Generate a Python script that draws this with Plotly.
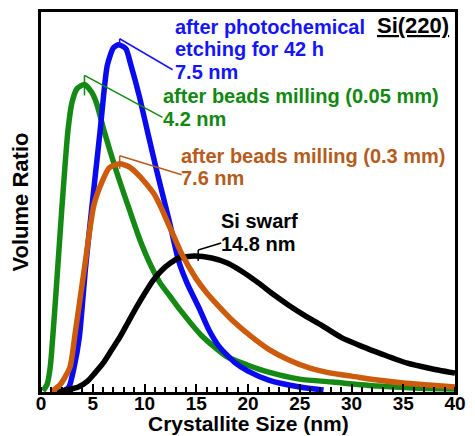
import plotly.graph_objects as go

# ---- data (x in nm, volume ratio in arbitrary units) ----
green_x = [0.2, 0.6, 0.9, 1.4, 2.0, 2.6, 3.0, 3.5, 4.2, 4.9, 5.4, 6.1, 7.3, 8.5, 9.5, 10.5, 11.5, 12.5,
           13.5, 15.5, 17.9, 20.0, 22.0, 25.0, 28.2, 32.5, 36.0, 40.0]
green_y = [1, 8, 26, 93, 183, 263, 292, 306, 310, 302, 290, 263, 222, 185, 155, 130, 110, 96,
           82, 57, 36, 27, 20, 13, 10, 6, 4, 3]

blue_x = [2.2, 2.7, 3.2, 3.7, 4.3, 4.9, 5.7, 6.4, 7.0, 7.5, 8.2, 8.7, 9.5, 10.3, 11.2, 12.4, 13.3,
          14.1, 15.3, 16.2, 17.2, 18.8, 20.0, 22.0, 25.0, 27.3]
blue_y = [1, 5, 25, 55, 125, 185, 262, 329, 347, 350, 346, 329, 298, 262, 222, 172, 132,
          110, 84, 63, 46, 29, 21, 12, 5, 2]

orange_x = [1.0, 1.9, 2.8, 3.3, 4.2, 5.1, 5.9, 6.6, 7.6, 8.5, 9.2, 10.0, 10.9, 11.6, 12.4, 13.0,
            13.6, 15.0, 16.0, 17.2, 18.5, 20.3, 22.0, 24.0, 26.0, 28.0, 30.0, 32.5, 35.0, 37.5, 40.0]
orange_y = [0, 8, 25, 59, 125, 188, 212, 226, 230, 227, 221, 212, 200, 186, 167, 153,
            139, 114, 100, 86, 72, 56, 43, 32, 24, 19, 16, 12, 9, 7, 5]

black_x = [1.5, 2.5, 3.6, 4.5, 5.2, 6.0, 6.8, 7.6, 8.4, 9.2, 10.0, 10.8, 11.6, 12.5, 13.3, 14.8,
           16.5, 18.0, 19.5, 21.0, 22.5, 24.0, 25.5, 27.0, 29.0, 31.0, 33.0, 35.4, 37.5, 40.0]
black_y = [0, 2, 5, 11, 19, 29, 42, 55, 70, 85, 99, 112, 122, 130, 135, 137,
           135, 130, 121, 110, 98, 87, 77, 68, 55, 46, 38, 29, 24, 19]

x_ticks = [0, 5, 10, 15, 20, 25, 30, 35, 40]

series = [
    dict(name="Si swarf", x=black_x, y=black_y, color="#000000", text="#000000",
         peak=14.8, lines=["Si swarf", "14.8 nm"], xaxis="x2"),
    dict(name="after beads milling (0.3 mm)", x=orange_x, y=orange_y, color="#cc5c0c", text="#b55c1c",
         peak=7.6, lines=["after beads milling (0.3 mm)", "7.6 nm"], xaxis="x3"),
    dict(name="after beads milling (0.05 mm)", x=green_x, y=green_y, color="#148a14", text="#118811",
         peak=4.2, lines=["after beads milling (0.05 mm)", "4.2 nm"], xaxis="x"),
    dict(name="after photochemical etching for 42 h", x=blue_x, y=blue_y, color="#0a0aee", text="#1414ff",
         peak=7.5, lines=["after photochemical", "etching for 42 h", "7.5 nm"], xaxis="x"),
]

# layout geometry (pixels)
W, H = 475, 436
L, R, T, B = 41, 16, 9, 44
PW, PH = W - L - R, H - T - B

def px(xp):
    return (xp - L) / PW

def py(yp):
    return (H - B - yp) / PH

# text placement: left pixel, first baseline pixel, line step; leader-line pixel offsets
label_pos = {
    "Si swarf": (222, 227, 22.5, (4, 6), (27, 13), (4, -5)),
    "after beads milling (0.3 mm)": (181, 161, 22.5, (0, 8), (62, -11), (0, -5)),
    "after beads milling (0.05 mm)": (163, 101, 22.5, (0, 9), (78, -33), (0, -11)),
    "after photochemical etching for 42 h": (175, 31, 22.5, (1, 6), (54, -25), (1, -1)),
}

FONT = "Liberation Sans, Arial, sans-serif"
fig = go.Figure()
annotations = []
shapes = []
for s in series:
    fig.add_trace(go.Scatter(x=s["x"], y=s["y"], mode="lines", name=s["name"], xaxis=s["xaxis"],
                             line=dict(color=s["color"], width=5.5, shape="spline", smoothing=0.6),
                             showlegend=False, cliponaxis=True))
    lx, ly, step, a0, a1, t1 = label_pos[s["name"]]
    for i, t in enumerate(s["lines"]):
        annotations.append(dict(xref="paper", yref="paper", x=px(lx), y=py(ly + i * step - 7),
                                xanchor="left", yanchor="middle", showarrow=False, text=t,
                                borderpad=0,
                                font=dict(family=FONT, size=20, color=s["text"], weight="bold")))
    peak_y = max(s["y"])
    for (p0, p1) in [(a0, a1), (a0, t1)]:
        shapes.append(dict(type="line", xref="x", yref="y",
                           xsizemode="pixel", ysizemode="pixel",
                           xanchor=s["peak"], yanchor=peak_y,
                           x0=p0[0], y0=p0[1], x1=p1[0], y1=p1[1],
                           line=dict(color=s["text"], width=1.5)))

annotations.append(dict(xref="paper", yref="paper", x=px(379), y=py(23), xanchor="left",
                        yanchor="middle", showarrow=False, text="<u>Si(220)</u>", borderpad=0,
                        font=dict(family=FONT, size=22, color="#000000", weight="bold")))

# x-axis title placed as an annotation to sit close under the tick labels
annotations.append(dict(xref="paper", yref="paper", x=0.5, y=py(436), xanchor="center",
                        yanchor="bottom", showarrow=False, text="Crystallite Size (nm)", borderpad=0,
                        font=dict(family=FONT, size=21, color="#000000", weight="bold")))

fig.update_layout(
    width=W, height=H,
    margin=dict(l=L, r=R, t=T, b=B, pad=0),
    paper_bgcolor="white", plot_bgcolor="white",
    annotations=annotations, shapes=shapes,
    font=dict(family=FONT, color="#000000"),
    # primary x axis: frame and minor inside ticks
    xaxis=dict(range=[0, 40], tickvals=x_ticks, ticks="", showticklabels=False,
               minor=dict(dtick=1, ticks="inside", ticklen=5, tickwidth=1.5, tickcolor="#000000"),
               showline=True, linewidth=2.5, linecolor="#000000", mirror=True,
               showgrid=False, zeroline=False),
    # overlaying x axis: the long major inside ticks
    xaxis2=dict(overlaying="x", matches="x", anchor="y", side="bottom", range=[0, 40],
                tickvals=x_ticks, ticks="inside", ticklen=8, tickwidth=2, tickcolor="#000000",
                showticklabels=False, showline=False, showgrid=False, zeroline=False),
    # overlaying x axis carrying the tick labels
    xaxis3=dict(overlaying="x", matches="x", anchor="free", position=2 / PH, side="bottom",
                range=[0, 40], tickvals=x_ticks, ticktext=[str(v) for v in x_ticks], ticks="",
                showline=False, showgrid=False, zeroline=False,
                tickfont=dict(family=FONT, size=19, color="#000000", weight="bold")),
    yaxis=dict(range=[0, PH], showticklabels=False, ticks="",
               showline=True, linewidth=2.5, linecolor="#000000", mirror=True,
               showgrid=False, zeroline=False,
               title=dict(text="Volume Ratio", standoff=4,
                          font=dict(family=FONT, size=22, color="#000000", weight="bold"))),
)

fig.write_html("out.html")
